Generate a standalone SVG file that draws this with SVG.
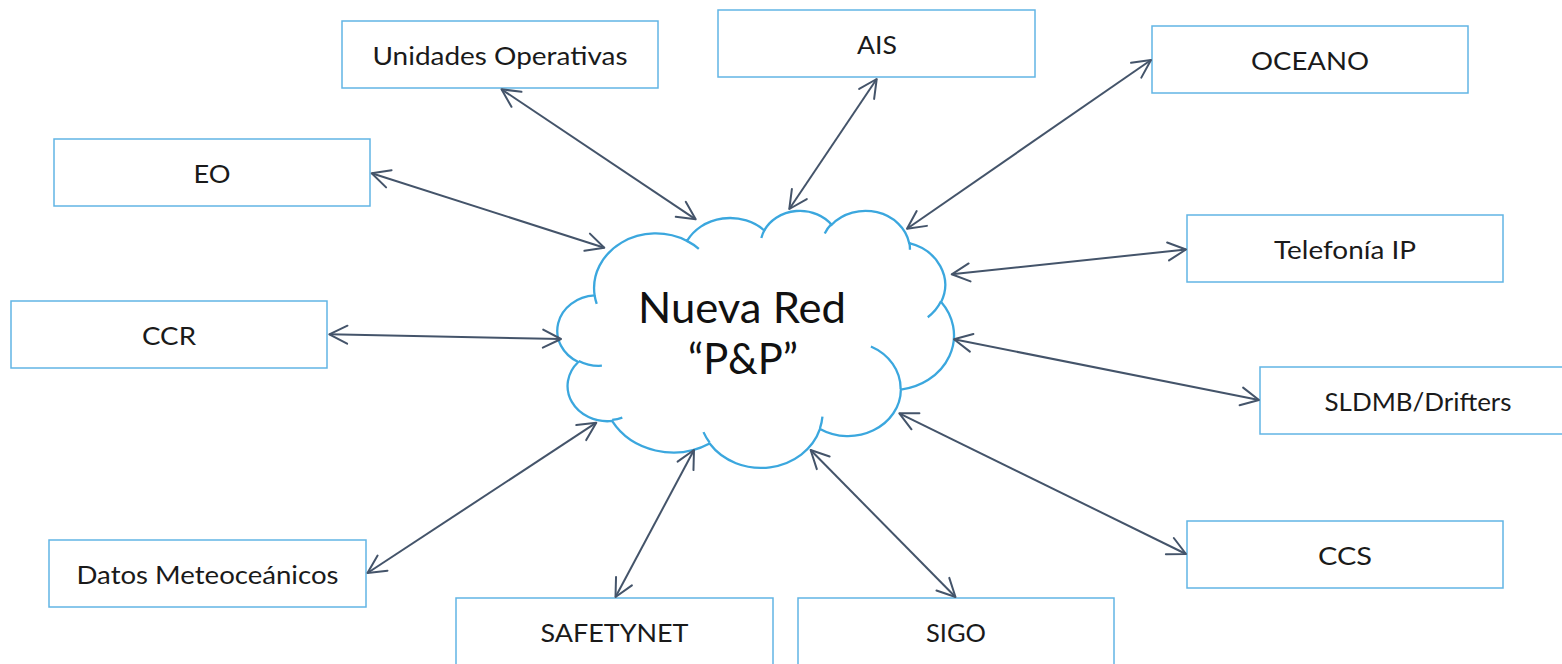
<svg xmlns="http://www.w3.org/2000/svg" width="1562" height="664" viewBox="0 0 1562 664">
<defs>
<style>
.box{fill:#fff;stroke:#62B5E5;stroke-width:1.5}
.lbl{font-family:Lato,"Open Sans","Liberation Sans",sans-serif;font-size:25px;fill:#1a1a1a;text-anchor:middle}
.big{font-family:Lato,"Open Sans","Liberation Sans",sans-serif;font-size:43px;fill:#111;text-anchor:middle}
.cl{stroke:#3BA7DE;stroke-width:2.3;vector-effect:non-scaling-stroke}
.ar{stroke:#44546A;stroke-width:2;fill:none;marker-start:url(#ah);marker-end:url(#ah)}
</style>
<marker id="ah" markerUnits="userSpaceOnUse" viewBox="-20 -11 22 22" refX="0" refY="0" markerWidth="22" markerHeight="22" orient="auto-start-reverse">
<path d="M-18,-9 L0,0 L-18,9" fill="none" stroke="#44546A" stroke-width="2" stroke-linecap="round" stroke-linejoin="round"/>
</marker>
</defs>
<rect width="1562" height="664" fill="#fff"/>
<g id="cloud">
<g transform="translate(559,210) scale(0.009139,0.005948)">
<path class="cl" fill="#fff" d="M3900 14370 A6753 9190 0 0 1 14006.6 5203.6 A5333 7267 0 0 1 22458.8 3434.4 A4365 5945 0 0 1 29835.1 2480.3 A4857 6595 0 0 1 38319.5 5576.9 A5333 7273 0 0 1 41819.8 15460.7 A6775 9220 0 0 1 37406.1 30204.3 A5785 7867 0 0 1 28557.4 36814.2 A6752 9215 0 0 1 16482 39265.6 A7720 10543 0 0 1 5804.8 35469.6 A4360 5918 0 0 1 2111.6 25550.9 A4345 5945 0 0 1 3900 14370 Z"/>
<path class="cl" fill="none" d="M4693 26177 A4345 5945 0 0 1 2160.4 25380.3 M6928 34899 A4360 5918 0 0 1 5819.5 35280.5 M16478 39090 A6752 9215 0 0 1 15810 37349.5 M28827 34751 A6752 9215 0 0 1 28560.5 36659.4 M34129 22954 A5785 7867 0 0 1 37380.7 30089.8 M41798 15354 A5333 7273 0 0 1 40350.8 18029.2 M38324 5426 A4857 6595 0 0 1 38400.4 6689.5 M29078 3952 A4857 6595 0 0 1 29820 2340 M22141 4720 A4365 5945 0 0 1 22500.3 3329.9 M14000 5192 A6753 9190 0 0 1 15300 6541.2 M4127 15789 A6753 9190 0 0 1 3900.4 14371.2"/>
</g>
<text class="big" x="742" y="323" textLength="208" lengthAdjust="spacingAndGlyphs">Nueva Red</text>
<text class="big" x="743" y="374" textLength="110" lengthAdjust="spacingAndGlyphs">“P&amp;P”</text>
</g>
<g id="unidades"><rect class="box" x="342" y="21" width="316" height="67"/><text class="lbl" x="500" y="64.5" textLength="255" lengthAdjust="spacingAndGlyphs">Unidades Operativas</text></g>
<g id="ais"><rect class="box" x="718" y="10" width="317" height="67"/><text class="lbl" x="877" y="53.5" textLength="40" lengthAdjust="spacingAndGlyphs">AIS</text></g>
<g id="oceano"><rect class="box" x="1152" y="26" width="316" height="67"/><text class="lbl" x="1310" y="69.5" textLength="118" lengthAdjust="spacingAndGlyphs">OCEANO</text></g>
<g id="eo"><rect class="box" x="54" y="139" width="316" height="67"/><text class="lbl" x="212" y="182.5" textLength="37" lengthAdjust="spacingAndGlyphs">EO</text></g>
<g id="telefonia"><rect class="box" x="1187" y="215" width="316" height="67"/><text class="lbl" x="1345" y="258.5" textLength="142" lengthAdjust="spacingAndGlyphs">Telefonía IP</text></g>
<g id="ccr"><rect class="box" x="11" y="301" width="316" height="67"/><text class="lbl" x="169" y="344.5" textLength="54" lengthAdjust="spacingAndGlyphs">CCR</text></g>
<g id="sldmb"><rect class="box" x="1260" y="367" width="316" height="67"/><text class="lbl" x="1418" y="410.5" textLength="187" lengthAdjust="spacingAndGlyphs">SLDMB/Drifters</text></g>
<g id="ccs"><rect class="box" x="1187" y="521" width="316" height="67"/><text class="lbl" x="1345" y="564.5" textLength="54" lengthAdjust="spacingAndGlyphs">CCS</text></g>
<g id="datos"><rect class="box" x="49" y="540" width="317" height="67"/><text class="lbl" x="207.5" y="583.5" textLength="262" lengthAdjust="spacingAndGlyphs">Datos Meteoceánicos</text></g>
<g id="safetynet"><rect class="box" x="456" y="598" width="317" height="67"/><text class="lbl" x="614.5" y="642" textLength="148" lengthAdjust="spacingAndGlyphs">SAFETYNET</text></g>
<g id="sigo"><rect class="box" x="798" y="598" width="316" height="67"/><text class="lbl" x="956" y="642" textLength="60" lengthAdjust="spacingAndGlyphs">SIGO</text></g>
<g id="connectors">
<line class="ar" x1="501.5" y1="89.3" x2="695.7" y2="219.3"/>
<line class="ar" x1="371.7" y1="173.3" x2="604.3" y2="247.7"/>
<line class="ar" x1="876.7" y1="79" x2="789.3" y2="209"/>
<line class="ar" x1="1151" y1="60" x2="907" y2="228.7"/>
<line class="ar" x1="1186" y1="249.5" x2="951.7" y2="274.3"/>
<line class="ar" x1="329.3" y1="334.3" x2="561" y2="339"/>
<line class="ar" x1="954" y1="339.3" x2="1259" y2="400"/>
<line class="ar" x1="899.3" y1="413.3" x2="1186" y2="554"/>
<line class="ar" x1="596.3" y1="422.7" x2="367.5" y2="573"/>
<line class="ar" x1="694" y1="450" x2="615.5" y2="597"/>
<line class="ar" x1="810.6" y1="450" x2="955.5" y2="597"/>
</g>
</svg>
